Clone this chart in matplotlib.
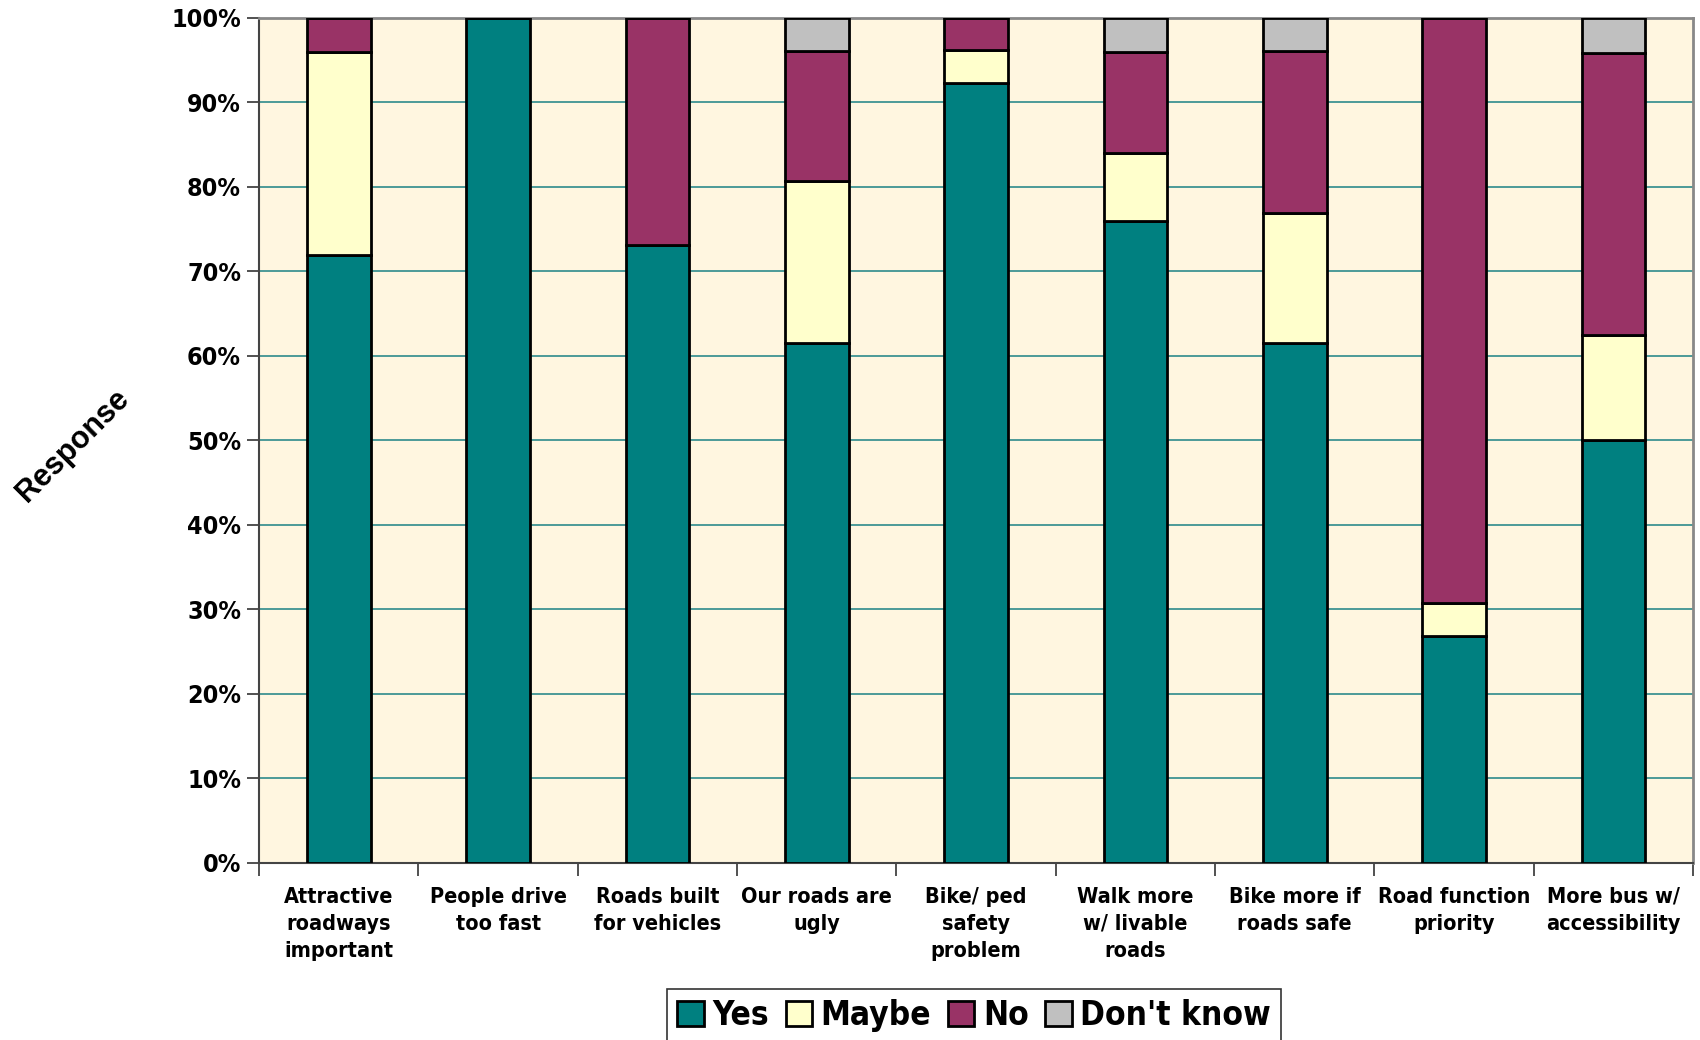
import numpy as np
import matplotlib.pyplot as plt

# Survey responses (percent of respondents)
categories = [
    "Attractive\nroadways\nimportant",
    "People drive\ntoo fast",
    "Roads built\nfor vehicles",
    "Our roads are\nugly",
    "Bike/ ped\nsafety\nproblem",
    "Walk more\nw/ livable\nroads",
    "Bike more if\nroads safe",
    "Road function\npriority",
    "More bus w/\naccessibility",
]
yes = [72.0, 100.0, 73.1, 61.5, 92.3, 76.0, 61.5, 26.9, 50.0]
maybe = [24.0, 0.0, 0.0, 19.2, 3.9, 8.0, 15.4, 3.9, 12.5]
no = [4.0, 0.0, 26.9, 15.4, 3.8, 12.0, 19.2, 69.2, 33.3]
dont_know = [0.0, 0.0, 0.0, 3.9, 0.0, 4.0, 3.9, 0.0, 4.2]

series = [("Yes", yes, "#008080"), ("Maybe", maybe, "#FFFFCC"),
          ("No", no, "#993366"), ("Don't know", dont_know, "#C0C0C0")]

fig = plt.figure(figsize=(17, 10.4), dpi=100)
ax = fig.add_axes([0.1524, 0.1702, 0.8435, 0.8125])
ax.set_facecolor("#FFF6E0")

x = np.arange(len(categories))
bottom = np.zeros(len(categories))
handles = []
for name, vals, col in series:
    vals = np.array(vals)
    b = ax.bar(x, vals, width=0.4, bottom=bottom, color=col, edgecolor="black",
               linewidth=2, label=name, zorder=3)
    handles.append(b)
    bottom += vals

ax.set_xlim(-0.5, len(categories) - 0.5)
ax.set_ylim(0, 100)
ax.set_yticks(np.arange(0, 101, 10))
ax.set_yticklabels([f"{v}%" for v in range(0, 101, 10)], fontsize=18, fontweight="bold",
                   family="DejaVu Sans", fontstretch="condensed")
ax.yaxis.grid(True, color="#2E8B8B", linewidth=1.2, zorder=1)

ax.set_xticks(x)
ax.set_xticklabels(categories, fontsize=15.5, fontweight="bold", linespacing=1.45,
                   family="DejaVu Sans", fontstretch="condensed")
ax.tick_params(axis="x", length=0, pad=17)
ax.set_xticks(np.arange(-0.5, len(categories), 1.0), minor=True)
ax.tick_params(axis="x", which="minor", length=9, width=1.2, color="#333333")
ax.tick_params(axis="y", length=9, width=1.2, color="#333333", pad=4)

for side in ["left", "bottom"]:
    ax.spines[side].set_color("#444444")
    ax.spines[side].set_linewidth(1.5)
for side in ["top", "right"]:
    ax.spines[side].set_color("#888888")
    ax.spines[side].set_linewidth(2)

fig.text(0.043, 0.571, "Response", rotation=45, fontsize=22, fontweight="bold",
         ha="center", va="center", family="Liberation Sans")

leg = fig.legend(handles=handles, loc="upper center", bbox_to_anchor=(0.573, 0.049),
                 ncol=4, frameon=True, fancybox=False, edgecolor="black",
                 handlelength=0.8, handleheight=0.8, handletextpad=0.25,
                 columnspacing=0.5, borderpad=0.3, borderaxespad=0,
                 prop={"family": "DejaVu Sans", "stretch": "condensed",
                       "weight": "bold", "size": 24})
leg.get_frame().set_linewidth(1.2)

fig.savefig("out.png", dpi=100)
plt.close(fig)
